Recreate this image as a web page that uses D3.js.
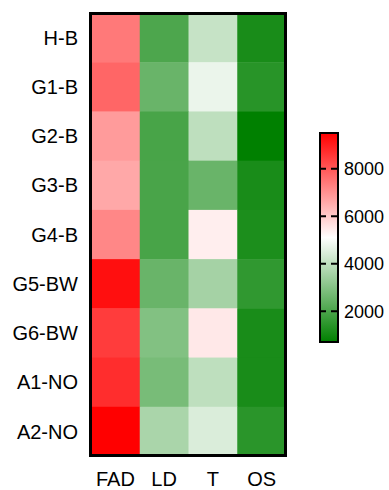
<!DOCTYPE html>
<html>
<head>
<meta charset="utf-8">
<script src="https://cdn.jsdelivr.net/npm/d3@7"></script>
<style>
  body { margin: 0; background: #fff; }
  text { font-family: "Liberation Sans", Arial, sans-serif; fill: #000; }
</style>
</head>
<body>
<script>
const width = 389;
const height = 490;

// rows top to bottom, columns left to right
const rows = ["H-B", "G1-B", "G2-B", "G3-B", "G4-B", "G5-BW", "G6-BW", "A1-NO", "A2-NO"];
const cols = ["FAD", "LD", "T", "OS"];

// values, one array per column
const fad = [7420, 7740, 6820, 6600, 7170, 9240, 8470, 8720, 9500];
const ld  = [2030, 2510, 1940, 1960, 1940, 2510, 2940, 2770, 3630];
const t   = [4115, 4750, 3980, 2510, 5390, 3550, 5500, 3980, 4460];
const os  = [1130, 1390, 700, 1130, 1190, 1530, 1130, 1130, 1430];

const legendTicks = [2000, 4000, 6000, 8000];
const vMin = 700, vMax = 9500;

const columns = [fad, ld, t, os];
const cells = [];
rows.forEach((r, i) => {
    cols.forEach((c, j) => {
        cells.push({ row: r, col: c, value: columns[j][i] });
    });
});

const svg = d3.select("body").append("svg")
    .attr("width", width)
    .attr("height", height);

const color = d3.scaleLinear()
    .domain([vMin, (vMin + vMax) / 2, vMax])
    .range(["#008000", "#ffffff", "#ff0000"])
    .clamp(true);

const x = d3.scaleBand().domain(cols).range([91, 286]);
const y = d3.scaleBand().domain(rows).range([13, 456]);

svg.selectAll("rect.cell")
    .data(cells)
    .enter()
    .append("rect")
    .attr("class", "cell")
    .attr("x", d => x(d.col))
    .attr("y", d => y(d.row))
    .attr("width", x.bandwidth() + 0.5)
    .attr("height", y.bandwidth() + 0.5)
    .attr("fill", d => color(d.value));

// frame
svg.append("rect")
    .attr("x", 90.5)
    .attr("y", 13.5)
    .attr("width", 195)
    .attr("height", 442)
    .attr("fill", "none")
    .attr("stroke", "#000")
    .attr("stroke-width", 3);

// row labels
svg.selectAll("text.row")
    .data(rows)
    .enter()
    .append("text")
    .attr("class", "row")
    .attr("x", 78)
    .attr("y", d => y(d) + y.bandwidth() / 2)
    .attr("dy", "0.36em")
    .attr("text-anchor", "end")
    .style("font-size", "20px")
    .text(d => d);

// column labels
svg.selectAll("text.col")
    .data(cols)
    .enter()
    .append("text")
    .attr("class", "col")
    .attr("x", d => x(d) + x.bandwidth() / 2)
    .attr("y", 486)
    .attr("text-anchor", "middle")
    .style("font-size", "20px")
    .text(d => d);

// colour bar
const barX = 320, barW = 18;
const ly = d3.scaleLinear().domain([vMin, vMax]).range([342, 133]);

const grad = svg.append("defs").append("linearGradient")
    .attr("id", "cbar")
    .attr("x1", 0).attr("y1", 1)
    .attr("x2", 0).attr("y2", 0);
grad.selectAll("stop")
    .data(color.domain())
    .enter()
    .append("stop")
    .attr("offset", (d, i) => i / 2)
    .attr("stop-color", d => color(d));

svg.append("rect")
    .attr("x", barX)
    .attr("y", ly(vMax))
    .attr("width", barW)
    .attr("height", ly(vMin) - ly(vMax))
    .attr("fill", "url(#cbar)")
    .attr("stroke", "#000")
    .attr("stroke-width", 2);

svg.selectAll("line.tick")
    .data(legendTicks)
    .enter()
    .append("line")
    .attr("class", "tick")
    .attr("x1", barX - 1)
    .attr("x2", barX + barW + 1)
    .attr("y1", d => ly(d))
    .attr("y2", d => ly(d))
    .attr("stroke", "#000")
    .attr("stroke-width", 2)
    .attr("stroke-dasharray", "7,5");

svg.selectAll("text.tick")
    .data(legendTicks)
    .enter()
    .append("text")
    .attr("class", "tick")
    .attr("x", 344)
    .attr("y", d => ly(d))
    .attr("dy", "0.36em")
    .style("font-size", "18px")
    .text(d => d);
</script>
</body>
</html>
